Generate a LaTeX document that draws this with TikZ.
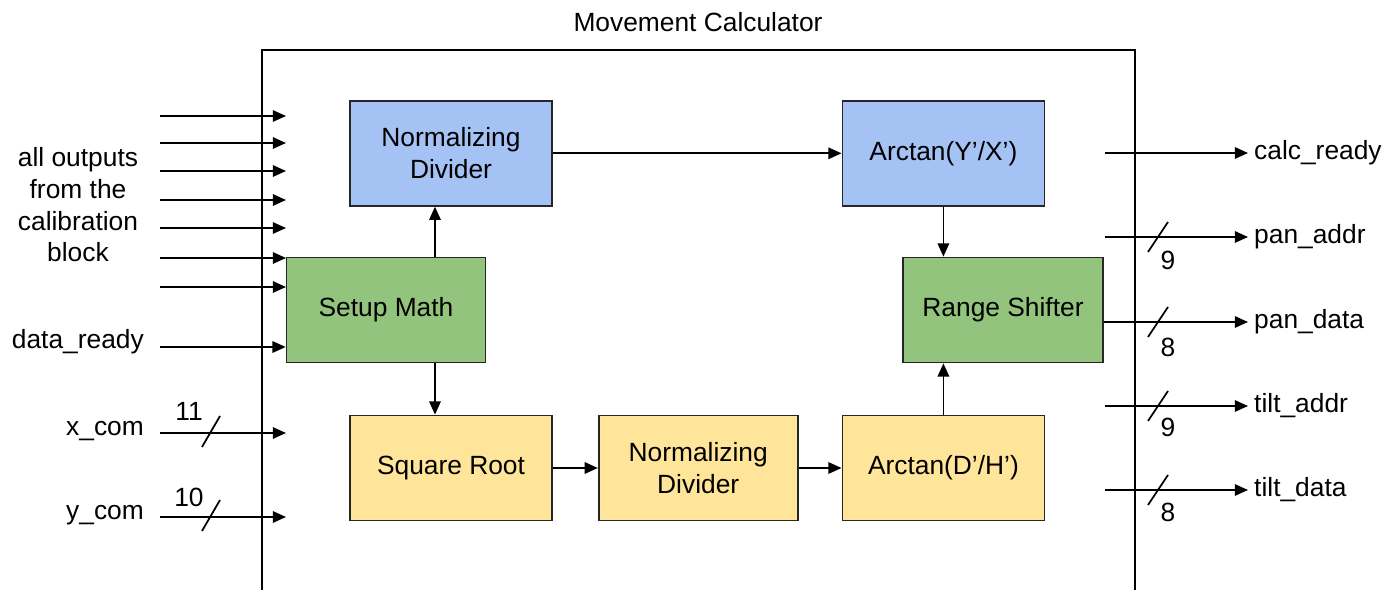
\documentclass[tikz,border=0pt]{standalone}
\usepackage{fontspec}
\setmainfont{Liberation Sans}
\usetikzlibrary{arrows.meta,positioning}
\definecolor{blueblk}{HTML}{A4C2F4}
\definecolor{greenblk}{HTML}{93C47D}
\definecolor{yellowblk}{HTML}{FFE599}

\begin{document}
\begin{tikzpicture}[
  x=0.02cm, y=-0.02cm,
  font=\fontsize{15}{18}\selectfont,
  box/.style={draw=black!85, line width=1pt, align=center, minimum width=4.04cm, minimum height=2.1cm},
  arr/.style={-{Triangle[length=7.5pt,width=6.5pt]}, line width=1pt},
  bus/.style={line width=1pt}
]
\clip (0,0) rectangle (1385,590);
\fill[white] (0,0) rectangle (1385,590);

% outer block
\draw[line width=1.1pt] (262,50) rectangle (1135,640);
\node (title) at (698,22) {Movement Calculator};

% inner blocks
\node[box, fill=yellowblk] (sqrt) at (451,468) {Square Root};
\node[box, fill=yellowblk, minimum width=3.98cm, right=0.9cm of sqrt] (norm2) {Normalizing\\Divider};
\node[box, fill=yellowblk, right=0.86cm of norm2] (atandh) {Arctan(D'/H')};
\node[box, fill=blueblk, above=4.16cm of sqrt] (norm1) {Normalizing\\Divider};
\node[box, fill=blueblk, above=4.16cm of atandh] (atanyx) {Arctan(Y'/X')};
\node[box, fill=greenblk, minimum width=3.98cm] (setup) at (386,310) {Setup Math};
\node[box, fill=greenblk, minimum width=4cm] (range) at (1003,310) {Range Shifter};

\draw[arr] (norm1) -- (atanyx);
\draw[arr] ([xshift=0.98cm]setup.north) -- ([xshift=0.98cm]setup.north |- norm1.south);
\draw[arr] ([xshift=0.98cm]setup.south) -- ([xshift=0.98cm]setup.south |- sqrt.north);
\draw[arr] (sqrt) -- (norm2);
\draw[arr] (norm2) -- (atandh);
\draw[arr] (atanyx.south) -- (atanyx.south |- range.north);
\draw[arr] (atandh.north) -- (atandh.north |- range.south);

% inputs
\node[align=center] (calnote) at (78,205) {all outputs\\from the\\calibration\\block};
\foreach \y [count=\i] in {116,143,171,200,228,258,287} {
  \coordinate (cal\i) at (160,\y);
  \coordinate (calin\i) at (286,\y);
  \draw[arr] (cal\i) -- (calin\i);
}
\node[anchor=east] (dready) at (150,342) {data\_ready};
\coordinate (drsrc) at (160,347);
\draw[arr] (drsrc) -- (drsrc -| setup.west);

\node[anchor=east] (xcom) at (150,431) {x\_com};
\coordinate (xsrc) at (160,433);
\coordinate (xin) at (286,433);
\draw[arr] (xsrc) -- (xin);
\draw[bus] (202,447) -- (220,416);
\node (xw) at (189,411) {11};

\node[anchor=east] (ycom) at (150,515) {y\_com};
\coordinate (ysrc) at (160,517);
\coordinate (yin) at (286,517);
\draw[arr] (ysrc) -- (yin);
\draw[bus] (202,531) -- (220,500);
\node (yw) at (189,497) {10};

% outputs
\node[anchor=west] (calc) at (1248,153) {calc\_ready};
\coordinate (calcsrc) at (1105,153);
\draw[arr] (calcsrc) -- (calc.west);

\node[anchor=west] (panaddr) at (1248,237) {pan\_addr};
\coordinate (pasrc) at (1105,237);
\draw[arr] (pasrc) -- (panaddr.west);
\draw[bus] (1148,252) -- (1168,222);
\node (paw) at (1168,260) {9};

\node[anchor=west] (pandata) at (1248,322) {pan\_data};
\draw[arr] ([yshift=-0.24cm]range.east) -- (pandata.west);
\draw[bus] (1148,337) -- (1168,307);
\node (pdw) at (1168,347) {8};

\node[anchor=west] (tiltaddr) at (1248,406) {tilt\_addr};
\coordinate (tasrc) at (1105,406);
\draw[arr] (tasrc) -- (tiltaddr.west);
\draw[bus] (1148,421) -- (1168,391);
\node (taw) at (1168,427) {9};

\node[anchor=west] (tiltdata) at (1248,490) {tilt\_data};
\coordinate (tdsrc) at (1105,490);
\draw[arr] (tdsrc) -- (tiltdata.west);
\draw[bus] (1148,505) -- (1168,475);
\node (tdw) at (1168,512) {8};
\end{tikzpicture}
\end{document}
